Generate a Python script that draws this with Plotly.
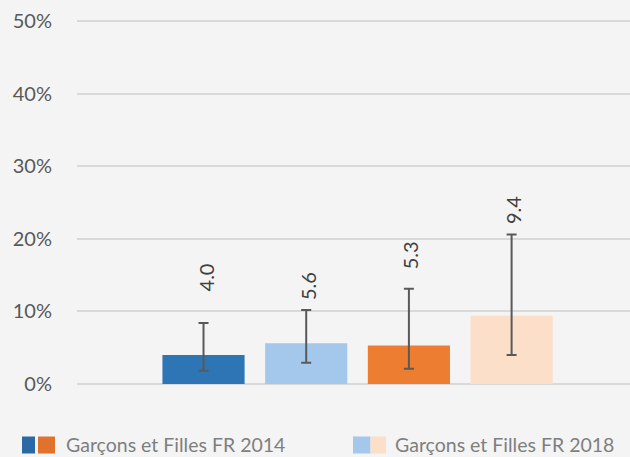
import plotly.graph_objects as go

categories = ["Garçons FR 2014", "Garçons FR 2018", "Filles FR 2014", "Filles FR 2018"]
values = [4.0, 5.6, 5.3, 9.4]
err_upper = [8.4, 10.2, 13.1, 20.6]
err_lower = [1.8, 2.9, 2.1, 4.0]
labels = ["4.0", "5.6", "5.3", "9.4"]
label_pos = [12.4, 11.3, 15.5, 21.7]
bar_colors = ["#2e75b6", "#a3c8ec", "#ed7d31", "#fbdfc8"]
legend_labels = ["Garçons et Filles FR 2014", "Garçons et Filles FR 2018"]
legend_colors = [["#2a68a6", "#e0722c"], ["#a3c8ec", "#fbdfc8"]]
y_ticks = [0, 10, 20, 30, 40, 50]
y_ticktext = ["0%", "10%", "20%", "30%", "40%", "50%"]

FONT = "Lato"
W, H = 630, 457
L, R, T, B = 77, 0, 20, 72
pw, ph = W - L - R, H - T - B

def px(x):
    return (x - L) / pw

def py(y):
    return (H - B - y) / ph

fig = go.Figure()
fig.add_trace(go.Bar(
    x=list(range(len(categories))),
    y=values,
    marker=dict(color=bar_colors, line=dict(width=0)),
    error_y=dict(
        type="data", symmetric=False,
        array=[u - v for u, v in zip(err_upper, values)],
        arrayminus=[v - l for v, l in zip(values, err_lower)],
        color="#595959", thickness=2, width=5,
    ),
    hoverinfo="skip",
    showlegend=False,
))

for i, (lab, pos) in enumerate(zip(labels, label_pos)):
    fig.add_annotation(x=i, y=pos, text=lab, textangle=-90, showarrow=False,
                       xanchor="center", yanchor="bottom", xshift=2,
                       font=dict(family=FONT, size=20, color="#404040"))

# manual legend (two-colour swatches)
swatches = [[(22, 35), (38, 55)], [(353, 370.5), (370.5, 386)]]
text_x = [66, 395]
for j, (lab, cols) in enumerate(zip(legend_labels, legend_colors)):
    for (a, b), c in zip(swatches[j], cols):
        fig.add_shape(type="rect", xref="paper", yref="paper",
                      x0=px(a), x1=px(b), y0=py(453.5), y1=py(436.5),
                      fillcolor=c, line=dict(width=0))
    fig.add_annotation(xref="paper", yref="paper", x=px(text_x[j] - 2), y=py(444.5),
                       text=lab, showarrow=False, xanchor="left", yanchor="middle",
                       font=dict(family=FONT, size=19.5, color="#7f7f7f"))

fig.update_layout(
    width=W, height=H,
    margin=dict(l=L, r=R, t=T, b=B, pad=0),
    paper_bgcolor="#f4f4f4", plot_bgcolor="#f4f4f4",
    bargap=0.2,
    font=dict(family=FONT, size=20, color="#595959"),
    xaxis=dict(range=[-1.232, 4.153], showticklabels=False, showgrid=False,
               zeroline=False, showline=False, fixedrange=True),
    yaxis=dict(range=[-0.15, 50.15], tickmode="array", tickvals=y_ticks, ticktext=y_ticktext,
               showgrid=True, gridcolor="#d9d9d9", gridwidth=2,
               zeroline=False, showline=False, ticks="",
               ticklabelstandoff=24, tickfont=dict(family=FONT, size=20, color="#595959")),
    showlegend=False,
)

fig.write_html("out.html", config={"displayModeBar": False},
               post_script="document.body.style.margin='0';document.body.style.overflow='hidden';")
